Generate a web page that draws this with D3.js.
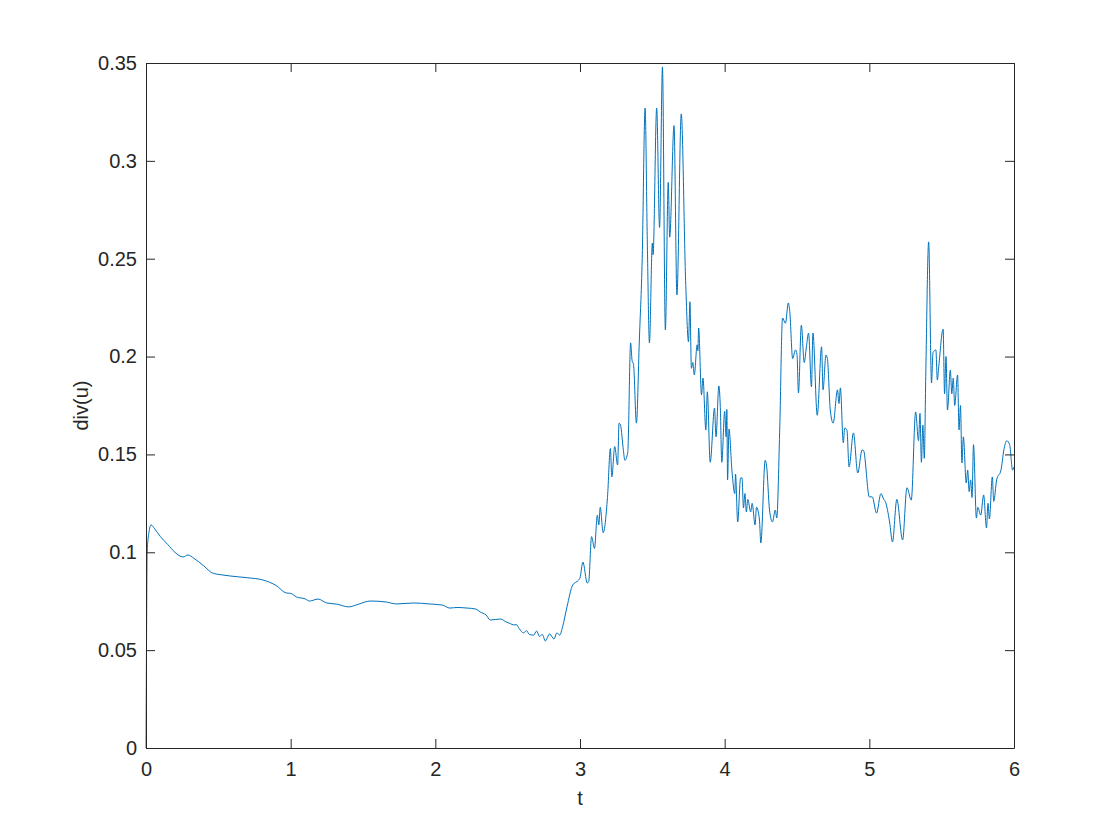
<!DOCTYPE html>
<html>
<head>
<meta charset="utf-8">
<script src="https://cdn.jsdelivr.net/npm/d3@7"></script>
<style>
  html, body { margin: 0; padding: 0; background: #ffffff; }
  text { font-family: "Liberation Sans", Arial, Helvetica, sans-serif; fill: #262626; }
</style>
</head>
<body>
<svg id="chart" width="1120" height="840"></svg>
<script>
// ---- data ----
const tValues = [
  0, 0.004, 0.008, 0.02, 0.035, 0.06, 0.1, 0.15, 0.2, 0.256, 0.29, 0.33, 0.4, 0.46, 0.52, 0.58, 0.7, 0.81, 0.9, 0.97,
  1.0, 1.04, 1.1, 1.13, 1.19, 1.25, 1.32, 1.40, 1.47, 1.55, 1.66, 1.73, 1.85, 1.96, 2.05, 2.10, 2.15, 2.22, 2.28, 2.31,
  2.35, 2.38, 2.45, 2.49, 2.52, 2.54, 2.56, 2.58, 2.61, 2.63, 2.65, 2.68, 2.70, 2.72, 2.74, 2.76, 2.79, 2.82, 2.84, 2.86,
  2.88, 2.91, 2.95, 2.99, 3.00, 3.02, 3.05, 3.06, 3.08, 3.10, 3.12, 3.13, 3.14, 3.16, 3.19, 3.21, 3.22, 3.24, 3.26, 3.27,
  3.28, 3.30, 3.31, 3.33, 3.35, 3.36, 3.37, 3.39, 3.41, 3.43, 3.45, 3.465, 3.48, 3.50, 3.505, 3.53, 3.55, 3.57, 3.59, 3.61,
  3.62, 3.65, 3.67, 3.70, 3.73, 3.75, 3.76, 3.77, 3.78, 3.79, 3.81, 3.815, 3.82, 3.84, 3.85, 3.87, 3.88, 3.90, 3.93, 3.94,
  3.96, 3.97, 3.98, 4.00, 4.01, 4.015, 4.02, 4.03, 4.05, 4.07, 4.075, 4.09, 4.11, 4.12, 4.13, 4.14, 4.15, 4.16, 4.18, 4.19,
  4.21, 4.22, 4.24, 4.25, 4.28, 4.29, 4.31, 4.33, 4.35, 4.36, 4.38, 4.40, 4.42, 4.44, 4.45, 4.47, 4.49, 4.50, 4.51, 4.53,
  4.55, 4.565, 4.58, 4.60, 4.61, 4.64, 4.67, 4.68, 4.70, 4.71, 4.73, 4.75, 4.78, 4.79, 4.80, 4.82, 4.83, 4.845, 4.86, 4.89,
  4.92, 4.95, 4.96, 5.00, 5.02, 5.05, 5.08, 5.10, 5.11, 5.14, 5.16, 5.19, 5.23, 5.26, 5.29, 5.32, 5.34, 5.35, 5.36, 5.37,
  5.38, 5.39, 5.41, 5.43, 5.44, 5.46, 5.47, 5.48, 5.51, 5.52, 5.53, 5.54, 5.56, 5.57, 5.58, 5.59, 5.61, 5.62, 5.63, 5.64,
  5.65, 5.67, 5.68, 5.69, 5.70, 5.71, 5.72, 5.74, 5.75, 5.77, 5.79, 5.81, 5.82, 5.83, 5.85, 5.86, 5.88, 5.91, 5.93, 5.95,
  5.97, 5.99, 6.0
];
const divValues = [
  0, 0.06, 0.1, 0.11, 0.114, 0.112, 0.108, 0.104, 0.1, 0.0976, 0.0986, 0.097, 0.093, 0.0894, 0.0885, 0.0879, 0.087, 0.0858, 0.083, 0.0792,
  0.079, 0.0772, 0.0762, 0.0751, 0.0761, 0.0741, 0.0735, 0.0721, 0.0735, 0.0751, 0.0746, 0.0736, 0.0741, 0.0736, 0.073, 0.0715, 0.0718, 0.0715, 0.071, 0.0695,
  0.068, 0.0654, 0.0659, 0.0644, 0.0635, 0.0629, 0.063, 0.061, 0.0588, 0.060, 0.058, 0.0577, 0.0598, 0.057, 0.058, 0.0547, 0.0583, 0.0557, 0.0588, 0.0577,
  0.062, 0.0721, 0.0833, 0.0858, 0.0869, 0.095, 0.0843, 0.085, 0.108, 0.102, 0.119, 0.114, 0.123, 0.110, 0.128, 0.153, 0.1385, 0.154, 0.1446, 0.166,
  0.165, 0.152, 0.147, 0.151, 0.207, 0.198, 0.196, 0.166, 0.208, 0.25, 0.327, 0.26, 0.207, 0.258, 0.252, 0.327, 0.266, 0.348, 0.2136, 0.289,
  0.261, 0.318, 0.2315, 0.324, 0.239, 0.2075, 0.228, 0.194, 0.197, 0.1906, 0.206, 0.203, 0.2146, 0.1804, 0.189, 0.1625, 0.182, 0.146, 0.1737, 0.159,
  0.185, 0.174, 0.146, 0.172, 0.159, 0.173, 0.137, 0.163, 0.142, 0.130, 0.140, 0.1155, 0.138, 0.138, 0.1226, 0.130, 0.1206, 0.127, 0.1206, 0.125,
  0.1140, 0.123, 0.117, 0.1048, 0.147, 0.144, 0.1216, 0.1155, 0.1216, 0.1175, 0.161, 0.2197, 0.217, 0.2274, 0.223, 0.199, 0.2034, 0.201, 0.1814, 0.216,
  0.197, 0.205, 0.212, 0.1845, 0.212, 0.170, 0.205, 0.183, 0.2008, 0.199, 0.1727, 0.166, 0.183, 0.176, 0.184, 0.156, 0.1635, 0.1625, 0.1436, 0.161,
  0.1405, 0.1523, 0.152, 0.1283, 0.1283, 0.120, 0.130, 0.127, 0.126, 0.1155, 0.1053, 0.127, 0.1063, 0.133, 0.1267, 0.1717, 0.157, 0.171, 0.146, 0.165,
  0.148, 0.19, 0.2586, 0.1865, 0.202, 0.2034, 0.188, 0.195, 0.214, 0.181, 0.2, 0.1727, 0.193, 0.181, 0.189, 0.175, 0.1906, 0.1625, 0.175, 0.1456,
  0.159, 0.1354, 0.142, 0.131, 0.137, 0.128, 0.155, 0.1175, 0.123, 0.119, 0.1293, 0.1124, 0.125, 0.117, 0.1385, 0.126, 0.137, 0.142, 0.1523, 0.157,
  0.155, 0.142, 0.1436
];
const xTicks = [0, 1, 2, 3, 4, 5, 6];
const yTicks = [0, 0.05, 0.1, 0.15, 0.2, 0.25, 0.3, 0.35];
const yTickLabels = ["0", "0.05", "0.1", "0.15", "0.2", "0.25", "0.3", "0.35"];
const xLabel = "t";
const yLabel = "div(u)";

// ---- layout ----
const W = 1120, H = 840;
const margin = { left: 146, top: 63, right: 106, bottom: 92 };
const iw = W - margin.left - margin.right;
const ih = H - margin.top - margin.bottom;
const axisColor = "#262626";
const lineColor = "#0072BD";
const fontSize = 20;
const tickLen = 9;

const svg = d3.select("#chart");
svg.append("rect").attr("width", W).attr("height", H).attr("fill", "#ffffff");

const x = d3.scaleLinear().domain([0, 6]).range([0, iw]);
const y = d3.scaleLinear().domain([0, 0.35]).range([ih, 0]);

const g = svg.append("g").attr("transform", `translate(${margin.left},${margin.top})`);

const data = tValues.map((t, i) => ({ t, v: divValues[i] }));

const line = d3.line()
  .x(d => x(d.t))
  .y(d => y(d.v))
  .curve(d3.curveMonotoneX);

g.append("path")
  .datum(data)
  .attr("fill", "none")
  .attr("stroke", lineColor)
  .attr("stroke-width", 1)
  .attr("stroke-linejoin", "round")
  .attr("d", line);

// axes (MATLAB style: inward ticks, box)
function styleAxis(sel) {
  sel.select(".domain").attr("stroke", axisColor).attr("stroke-width", 1);
  sel.selectAll(".tick line").attr("stroke", axisColor).attr("stroke-width", 1);
  sel.selectAll(".tick text").attr("fill", axisColor)
    .style("font-size", fontSize + "px")
    .style("font-family", '"Liberation Sans", Arial, Helvetica, sans-serif');
}

const xAxisB = d3.axisBottom(x).tickValues(xTicks).tickFormat(d3.format("d"))
  .tickSizeInner(-tickLen).tickSizeOuter(0).tickPadding(14);
const gxB = g.append("g").attr("transform", `translate(0,${ih})`).call(xAxisB);
styleAxis(gxB);

const xAxisT = d3.axisTop(x).tickValues(xTicks).tickFormat("")
  .tickSizeInner(-tickLen).tickSizeOuter(0);
const gxT = g.append("g").call(xAxisT);
styleAxis(gxT);

const yAxisL = d3.axisLeft(y).tickValues(yTicks).tickFormat((d, i) => yTickLabels[i])
  .tickSizeInner(-tickLen).tickSizeOuter(0).tickPadding(9);
const gyL = g.append("g").call(yAxisL);
styleAxis(gyL);

const yAxisR = d3.axisRight(y).tickValues(yTicks).tickFormat("")
  .tickSizeInner(-tickLen).tickSizeOuter(0);
const gyR = g.append("g").attr("transform", `translate(${iw},0)`).call(yAxisR);
styleAxis(gyR);

// axis labels
g.append("text")
  .attr("x", iw / 2)
  .attr("y", ih + 57)
  .attr("text-anchor", "middle")
  .style("font-size", fontSize + "px")
  .text(xLabel);

g.append("text")
  .attr("transform", `translate(${-58},${ih / 2}) rotate(-90)`)
  .attr("text-anchor", "middle")
  .style("font-size", fontSize + "px")
  .text(yLabel);
</script>
</body>
</html>
